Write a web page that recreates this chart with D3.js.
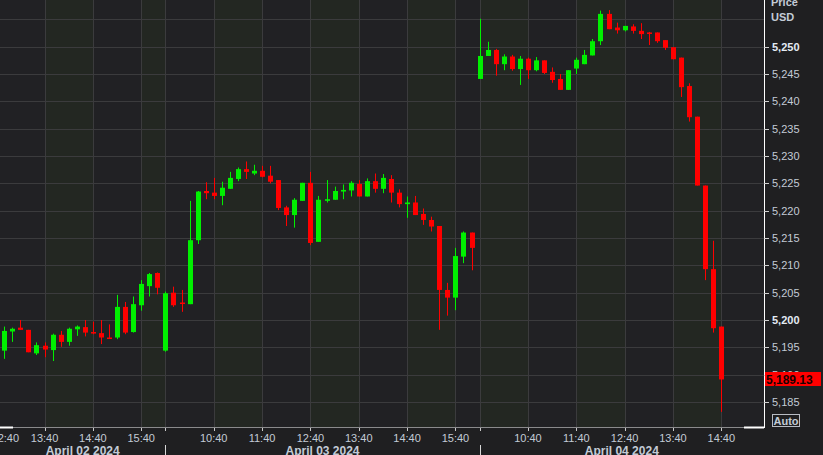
<!DOCTYPE html>
<html><head><meta charset="utf-8">
<script src="https://cdn.jsdelivr.net/npm/d3@7/dist/d3.min.js"></script>
<style>
html,body{margin:0;padding:0;background:#1f1f21;}
svg{display:block;}
</style></head>
<body><svg id="chart" width="823" height="455"></svg>
<script>
// ---------- DATA ----------
const dates = ["April 02 2024", "April 03 2024", "April 04 2024"];
const times02 = ["12:50","13:00","13:10","13:20","13:30","13:40","13:50","14:00","14:10","14:20","14:30","14:40","14:50","15:00","15:10","15:20","15:30","15:40","15:50","16:00"];
const times03 = ["09:40","09:50","10:00","10:10","10:20","10:30","10:40","10:50","11:00","11:10","11:20","11:30","11:40","11:50","12:00","12:10","12:20","12:30","12:40","12:50","13:00","13:10","13:20","13:30","13:40","13:50","14:00","14:10","14:20","14:30","14:40","14:50","15:00","15:10","15:20","15:30","15:40","15:50","16:00"];
const times04 = ["09:40","09:50","10:00","10:10","10:20","10:30","10:40","10:50","11:00","11:10","11:20","11:30","11:40","11:50","12:00","12:10","12:20","12:30","12:40","12:50","13:00","13:10","13:20","13:30","13:40","13:50","14:00","14:10","14:20","14:30","14:40"];

const open02  = [5194.4,5197.9,5198.6,5198.2,5193.9,5195.3,5194.5,5197.3,5196.0,5198.3,5198.7,5197.8,5197.6,5196.8,5196.8,5202.4,5197.8,5202.7,5206.2,5208.6];
const high02  = [5198.8,5198.6,5200.0,5198.2,5195.9,5195.9,5197.5,5198.0,5198.6,5199.0,5200.0,5199.7,5200.0,5199.2,5204.6,5203.3,5204.3,5207.3,5208.6,5208.7];
const low02   = [5192.9,5196.0,5198.2,5194.1,5193.6,5193.2,5192.5,5195.1,5195.3,5197.1,5197.0,5197.4,5195.6,5196.6,5196.5,5197.4,5197.7,5201.7,5204.3,5204.7];
const close02 = [5198.0,5198.4,5198.2,5194.1,5195.4,5194.6,5197.3,5196.0,5198.4,5198.8,5197.7,5197.6,5196.8,5196.7,5202.4,5197.7,5202.9,5206.6,5208.4,5205.9];

const open03  = [5194.4,5205.0,5203.2,5202.9,5214.6,5223.6,5223.3,5222.7,5224.0,5225.8,5227.6,5226.8,5227.3,5226.4,5225.6,5220.6,5219.2,5221.8,5225.1,5214.3,5221.8,5222.0,5223.5,5223.7,5224.9,5222.6,5225.4,5224.0,5225.8,5223.3,5221.2,5221.5,5219.4,5218.3,5217.2,5205.5,5204.1,5211.6,5216.0];
const high03  = [5205.2,5206.1,5205.5,5221.8,5223.6,5225.2,5226.0,5225.3,5227.1,5227.9,5229.0,5228.4,5228.2,5228.2,5225.6,5220.9,5222.3,5225.1,5227.1,5222.7,5225.6,5224.4,5224.8,5225.4,5225.6,5225.9,5226.8,5226.7,5226.5,5223.9,5222.6,5222.7,5220.4,5218.9,5217.2,5206.8,5213.2,5216.2,5216.0];
const low03   = [5194.2,5202.4,5201.5,5202.9,5213.9,5222.1,5222.1,5221.0,5224.0,5225.4,5225.8,5226.5,5226.1,5225.0,5220.1,5217.2,5216.9,5221.8,5213.7,5214.3,5221.5,5222.0,5222.1,5222.6,5222.6,5222.6,5223.3,5223.2,5221.5,5220.6,5218.7,5219.2,5217.4,5216.2,5198.2,5200.8,5201.8,5210.4,5209.1];
const close03 = [5204.9,5202.7,5203.0,5214.6,5223.5,5223.2,5222.7,5224.2,5226.0,5227.6,5227.1,5227.3,5226.2,5225.3,5220.5,5219.2,5222.0,5225.1,5214.1,5222.0,5222.1,5223.6,5223.8,5225.1,5222.6,5225.4,5224.0,5226.0,5223.3,5221.2,5221.5,5219.2,5218.3,5217.1,5205.5,5204.1,5211.7,5216.0,5213.2];

const open04  = [5244.1,5248.3,5249.4,5246.8,5248.2,5245.9,5247.8,5245.7,5247.5,5245.4,5244.1,5242.1,5246.0,5246.8,5248.4,5251.0,5256.0,5253.5,5253.0,5253.7,5252.9,5252.6,5252.6,5251.2,5249.9,5248.0,5242.8,5237.2,5224.6,5209.3,5198.8];
const high04  = [5255.1,5250.9,5249.6,5248.6,5248.5,5248.3,5248.0,5248.1,5247.5,5246.2,5245.0,5245.7,5248.0,5249.4,5251.4,5256.6,5256.7,5254.4,5253.8,5254.1,5254.3,5252.7,5252.6,5251.2,5249.9,5248.0,5243.3,5237.2,5224.6,5214.5,5198.8];
const low04   = [5244.1,5248.5,5244.7,5245.7,5245.6,5243.0,5244.1,5245.5,5245.0,5243.4,5242.1,5242.1,5245.0,5246.8,5248.4,5250.3,5253.2,5252.4,5252.8,5252.4,5251.4,5250.3,5250.7,5249.4,5247.7,5240.8,5236.3,5224.6,5207.3,5197.7,5183.2];
const close04 = [5248.3,5249.4,5246.8,5248.2,5245.9,5247.8,5245.7,5247.5,5245.2,5243.9,5242.1,5245.7,5247.6,5248.5,5251.0,5256.0,5253.2,5253.0,5253.8,5252.9,5252.3,5252.4,5251.0,5249.8,5247.7,5242.6,5237.1,5224.6,5209.3,5198.5,5189.13];

const yTicks = [5185,5190,5195,5200,5205,5210,5215,5220,5225,5230,5235,5240,5245,5250];
const yGrid  = [5185,5190,5195,5200,5205,5210,5215,5220,5225,5230,5235,5240,5245,5250,5255];
const yBold  = [5200,5250];
const lastPrice = 5189.13;
const currency = "USD";
const firstHiddenLabel = "12:40";

// ---------- BUILD ----------
const bars = [];
[[times02,open02,high02,low02,close02],[times03,open03,high03,low03,close03],[times04,open04,high04,low04,close04]]
  .forEach(([t,o,h,l,c],di)=>{
    t.forEach((tm,i)=>bars.push({date:dates[di],day:di,time:tm,first:i===0&&di>0,o:o[i],h:h[i],l:l[i],c:c[i],key:dates[di]+" "+tm}));
  });

const W=823,H=455, plotR=764, plotB=427;
const svg=d3.select("#chart");
const FONT="'Liberation Sans', Arial, sans-serif";
const LBL="#c3cbd6";

const keys=[dates[0]+" "+firstHiddenLabel].concat(bars.map(b=>b.key));
const x=d3.scalePoint().domain(keys).range([-3.8,721.3]);
const y=d3.scaleLinear().domain([5180.43,5258.54]).range([plotB,0]);

// backgrounds
svg.append("rect").attr("x",0).attr("y",0).attr("width",W).attr("height",H).attr("fill","#1f1f21");
svg.append("rect").attr("x",0).attr("y",0).attr("width",plotR).attr("height",plotB).attr("fill","#212124");

const dayStartX=[0, x(bars.find(b=>b.day===1).key), x(bars.find(b=>b.day===2).key), plotR];
const hourSlots=[{key:keys[0],time:firstHiddenLabel,first:false}].concat(bars.filter(b=>b.time.endsWith(":40")));

// alternating shaded intervals between consecutive hour lines
const edges=hourSlots.map(d=>Math.round(x(d.key))).concat([plotR]);
const bands=d3.pairs(edges).filter((p,i)=>i%2===1);
svg.append("g").selectAll("rect").data(bands).join("rect")
  .attr("x",d=>d[0]).attr("y",0).attr("width",d=>d[1]-d[0]).attr("height",plotB)
  .attr("fill","#232722");

// gridlines
const g=svg.append("g");
g.selectAll("line.hg").data(yGrid).join("line")
  .attr("x1",0).attr("x2",plotR).attr("y1",d=>Math.round(y(d))+0.5).attr("y2",d=>Math.round(y(d))+0.5)
  .attr("stroke","#3b3b3d").attr("stroke-width",1);
g.selectAll("line.vg").data(hourSlots).join("line")
  .attr("x1",d=>Math.round(x(d.key))+0.5).attr("x2",d=>Math.round(x(d.key))+0.5).attr("y1",0).attr("y2",plotB)
  .attr("stroke","#3b3b3d").attr("stroke-width",1);

// candles
const up="#00f000", dn="#ff0000";
const cg=svg.append("g");
const cand=cg.selectAll("g").data(bars).join("g");
cand.append("line")
  .attr("x1",d=>Math.round(x(d.key))+0.5).attr("x2",d=>Math.round(x(d.key))+0.5)
  .attr("y1",d=>y(d.h)).attr("y2",d=>y(d.l))
  .attr("stroke",d=>d.c>=d.o?up:dn).attr("stroke-width",1);
cand.append("rect")
  .attr("x",d=>Math.round(x(d.key))-2).attr("width",5)
  .attr("y",d=>y(Math.max(d.o,d.c)))
  .attr("height",d=>Math.max(1.5,Math.abs(y(d.o)-y(d.c))))
  .attr("fill",d=>d.c>=d.o?up:dn);

// bottom axis line
svg.append("line").attr("x1",0).attr("x2",plotR).attr("y1",plotB+0.5).attr("y2",plotB+0.5).attr("stroke","#8a8a8c");
svg.append("rect").attr("x",0).attr("y",plotB-0.5).attr("width",13).attr("height",2).attr("fill","#ffffff");
svg.append("rect").attr("x",744).attr("y",plotB-0.5).attr("width",20).attr("height",2).attr("fill","#ffffff");

// x ticks & labels
const xa=svg.append("g");
xa.selectAll("line.xt").data(hourSlots).join("line")
  .attr("x1",d=>Math.round(x(d.key))+0.5).attr("x2",d=>Math.round(x(d.key))+0.5)
  .attr("y1",plotB+1).attr("y2",plotB+4).attr("stroke","#c8c8c8");
xa.selectAll("text.xl").data(hourSlots.filter(d=>!d.first)).join("text")
  .attr("x",d=>Math.max(x(d.key),5.3)).attr("y",441.7).attr("text-anchor","middle")
  .attr("font-family",FONT).attr("font-size",11).attr("fill",LBL).text(d=>d.time);
xa.selectAll("line.ds").data(dayStartX.slice(1,3)).join("line")
  .attr("x1",d=>Math.round(d)+0.5).attr("x2",d=>Math.round(d)+0.5).attr("y1",445).attr("y2",H)
  .attr("stroke","#d8d8d8");
xa.selectAll("text.dl").data(dates).join("text")
  .attr("x",(d,i)=>(dayStartX[i]+dayStartX[i+1])/2).attr("y",454.5).attr("text-anchor","middle")
  .attr("font-family",FONT).attr("font-weight","bold").attr("font-size",12).attr("fill",LBL).text(d=>d);

// right axis
const ya=svg.append("g");
ya.append("line").attr("x1",plotR+0.5).attr("x2",plotR+0.5).attr("y1",0).attr("y2",plotB+1).attr("stroke","#ffffff");
ya.selectAll("line.yt").data(yTicks).join("line")
  .attr("x1",plotR).attr("x2",plotR+5).attr("y1",d=>Math.round(y(d))+0.5).attr("y2",d=>Math.round(y(d))+0.5)
  .attr("stroke","#d0d0d0");
ya.selectAll("text.yl").data(yTicks).join("text")
  .attr("x",772).attr("y",d=>y(d)+4)
  .attr("font-family",FONT).attr("font-size",11)
  .attr("font-weight",d=>yBold.includes(d)?"bold":"normal")
  .attr("fill",d=>yBold.includes(d)?"#e4ebf4":LBL)
  .text(d=>d3.format(",")(d));
ya.append("text").attr("x",771).attr("y",6).attr("font-family",FONT).attr("font-size",11).attr("font-weight","bold").attr("fill",LBL).text("Price");
ya.append("text").attr("x",771).attr("y",20.5).attr("font-family",FONT).attr("font-size",11).attr("font-weight","bold").attr("fill",LBL).text(currency);

// last price marker
const ly=y(lastPrice);
ya.append("rect").attr("x",plotR+1).attr("y",Math.round(ly)-7).attr("width",56).attr("height",14).attr("fill","#ff0000");
ya.append("text").attr("x",766).attr("y",ly+4.5).attr("font-family",FONT).attr("font-size",12).attr("font-weight","bold").attr("fill","#1a0000").text(d3.format(",.2f")(lastPrice));

// Auto button
ya.append("rect").attr("x",772.5).attr("y",414.5).attr("width",27).attr("height",12).attr("fill","none").attr("stroke","#b8bcc4");
ya.append("text").attr("x",786).attr("y",424.5).attr("text-anchor","middle").attr("font-family",FONT).attr("font-size",11).attr("font-weight","bold").attr("fill",LBL).text("Auto");
</script>
</body></html>
